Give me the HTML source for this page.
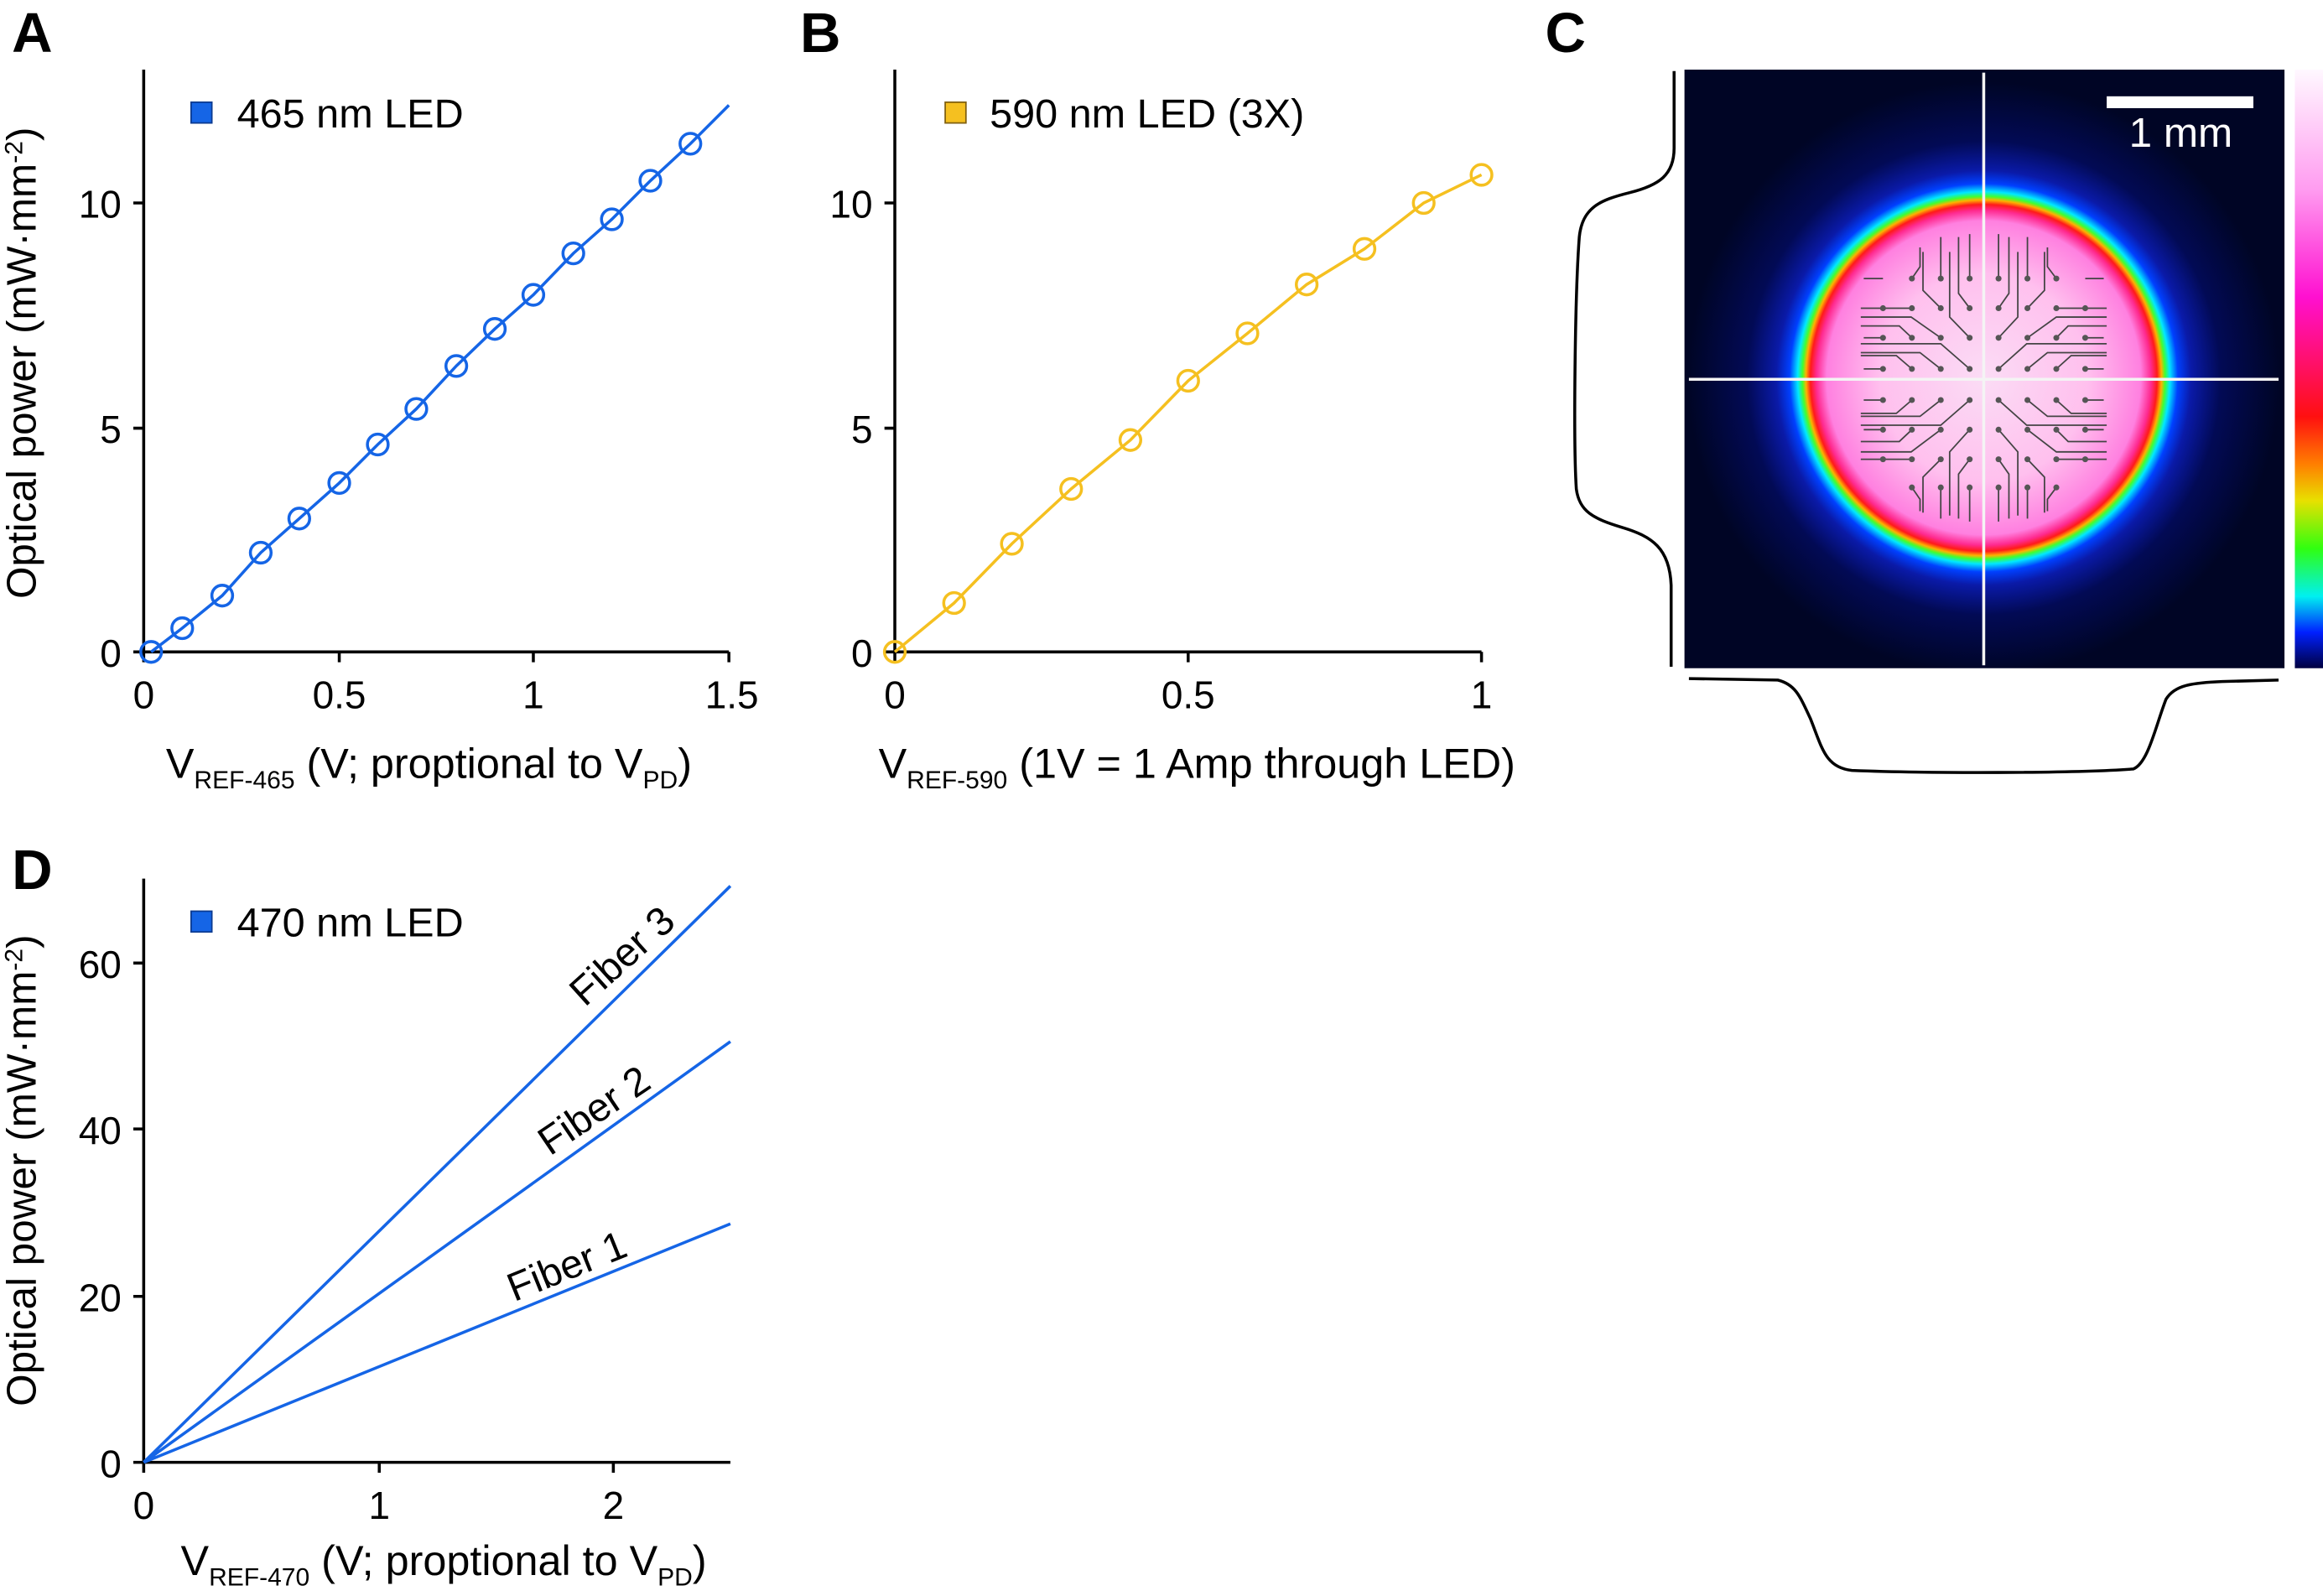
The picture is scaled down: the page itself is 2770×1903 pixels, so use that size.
<!DOCTYPE html>
<html><head><meta charset="utf-8"><style>
html,body{margin:0;padding:0;background:#fff;}
svg{display:block;}
text{font-family:"Liberation Sans",Arial,sans-serif;fill:#000;}
</style></head><body>
<svg width="2770" height="1903" viewBox="0 0 1568 1077.2" preserveAspectRatio="none" xmlns="http://www.w3.org/2000/svg">
<defs>
<radialGradient id="spot" gradientUnits="userSpaceOnUse" cx="1339" cy="255" r="200">
<stop offset="0" stop-color="#fbdcf5"/>
<stop offset="0.35" stop-color="#ffc0ee"/>
<stop offset="0.53" stop-color="#ff80e0"/>
<stop offset="0.565" stop-color="#ff2a90"/>
<stop offset="0.585" stop-color="#ff1a1a"/>
<stop offset="0.6" stop-color="#ffb000"/>
<stop offset="0.612" stop-color="#40ff30"/>
<stop offset="0.628" stop-color="#00e8ff"/>
<stop offset="0.655" stop-color="#0040ff"/>
<stop offset="0.7" stop-color="#0a1aa8"/>
<stop offset="0.8" stop-color="#020a55"/>
<stop offset="1" stop-color="#000525"/>
</radialGradient>
<linearGradient id="cbar" x1="0" y1="0" x2="0" y2="1">
<stop offset="0" stop-color="#fff8ff"/>
<stop offset="0.2" stop-color="#ff9cf0"/>
<stop offset="0.38" stop-color="#ff10d0"/>
<stop offset="0.5" stop-color="#ff1060"/>
<stop offset="0.58" stop-color="#ff1010"/>
<stop offset="0.66" stop-color="#ff8000"/>
<stop offset="0.72" stop-color="#e8e000"/>
<stop offset="0.8" stop-color="#30ff10"/>
<stop offset="0.88" stop-color="#00f0f0"/>
<stop offset="0.94" stop-color="#0020ff"/>
<stop offset="1" stop-color="#000040"/>
</linearGradient>
</defs>

<!-- Panel A -->
<text x="8" y="35" font-size="38" font-weight="bold">A</text>
<g stroke="#000" stroke-width="2" fill="none">
<path d="M97,47 V440 H492"/>
<path d="M90,137 H97 M90,289 H97 M90,440 H97"/>
<path d="M97,440 V447 M229,440 V447 M360,440 V447 M492,440 V447"/>
</g>
<g font-size="26" text-anchor="end">
<text x="82" y="147">10</text><text x="82" y="299">5</text><text x="82" y="450">0</text>
</g>
<g font-size="26" text-anchor="middle">
<text x="97" y="478">0</text><text x="229" y="478">0.5</text><text x="360" y="478">1</text><text x="494" y="478">1.5</text>
</g>
<text x="112" y="525" font-size="28.5">V<tspan font-size="17" dy="7">REF-465</tspan><tspan dy="-7"> (V; proptional to V</tspan><tspan font-size="17" dy="7">PD</tspan><tspan dy="-7">)</tspan></text>
<text transform="translate(24,245) rotate(-90)" font-size="28" text-anchor="middle">Optical power (mW·mm<tspan font-size="17" dy="-9">-2</tspan><tspan dy="9">)</tspan></text>
<rect x="129" y="69" width="14" height="14" fill="#1565e6" stroke="#0b3a90" stroke-width="1"/>
<text x="160" y="86" font-size="27.5">465 nm LED</text>
<g stroke="#1565e6" stroke-width="2" fill="none">
<polyline points="102,440 123,424 150,402 176,373 202,350 229,326 255,300 281,276 308,247 334,222 360,199 387,171 413,148 439,122 466,97 492,71"/>
<circle cx="102" cy="440" r="7"/><circle cx="123" cy="424" r="7"/><circle cx="150" cy="402" r="7"/><circle cx="176" cy="373" r="7"/><circle cx="202" cy="350" r="7"/><circle cx="229" cy="326" r="7"/><circle cx="255" cy="300" r="7"/><circle cx="281" cy="276" r="7"/><circle cx="308" cy="247" r="7"/><circle cx="334" cy="222" r="7"/><circle cx="360" cy="199" r="7"/><circle cx="387" cy="171" r="7"/><circle cx="413" cy="148" r="7"/><circle cx="439" cy="122" r="7"/><circle cx="466" cy="97" r="7"/>
</g>

<!-- Panel B -->
<text x="540" y="35" font-size="38" font-weight="bold">B</text>
<g stroke="#000" stroke-width="2" fill="none">
<path d="M604,47 V440 H1000"/>
<path d="M597,137 H604 M597,289 H604 M597,440 H604"/>
<path d="M604,440 V447 M802,440 V447 M1000,440 V447"/>
</g>
<g font-size="26" text-anchor="end">
<text x="589" y="147">10</text><text x="589" y="299">5</text><text x="589" y="450">0</text>
</g>
<g font-size="26" text-anchor="middle">
<text x="604" y="478">0</text><text x="802" y="478">0.5</text><text x="1000" y="478">1</text>
</g>
<text x="593" y="525" font-size="28.5">V<tspan font-size="17" dy="7">REF-590</tspan><tspan dy="-7"> (1V = 1 Amp through LED)</tspan></text>
<rect x="638" y="69" width="14" height="14" fill="#f5c020" stroke="#806010" stroke-width="1"/>
<text x="668" y="86" font-size="27.5">590 nm LED (3X)</text>
<g stroke="#f5c020" stroke-width="2" fill="none">
<polyline points="604,440 644,407 683,367 723,330 763,297 802,257 842,225 882,192 921,168 961,137 1000,118"/>
<circle cx="604" cy="440" r="7"/><circle cx="644" cy="407" r="7"/><circle cx="683" cy="367" r="7"/><circle cx="723" cy="330" r="7"/><circle cx="763" cy="297" r="7"/><circle cx="802" cy="257" r="7"/><circle cx="842" cy="225" r="7"/><circle cx="882" cy="192" r="7"/><circle cx="921" cy="168" r="7"/><circle cx="961" cy="137" r="7"/><circle cx="1000" cy="118" r="7"/>
</g>

<!-- Panel C -->
<text x="1043" y="35" font-size="38" font-weight="bold">C</text>
<rect x="1137" y="47" width="405" height="404" fill="url(#spot)"/>
<g stroke="#444" stroke-width="1" fill="none">
<path d="M1271,188H1258M1290.5,188L1296,180V167M1310,188V160M1329.5,188V158M1349,188V158M1368.5,188V160M1388,188L1382,180V167M1407.5,188H1420
M1271,208H1258M1290.5,208H1256M1310,208L1298,196V170M1329.5,208L1322,198V160M1349,208L1356,198V160M1368.5,208L1380,196V170M1388,208H1422M1407.5,208H1420
M1271,228H1258M1290.5,228L1282,220H1256M1310,228L1290,214H1256M1329.5,228L1316,214V170M1349,228L1362,214V170M1368.5,228L1388,214H1422M1388,228L1396,220H1422M1407.5,228H1420
M1271,249H1258M1290.5,249L1280,240H1256M1310,249L1296,238H1256M1329.5,249L1310,232H1256M1349,249L1368,232H1422M1368.5,249L1382,238H1422M1388,249L1398,240H1422M1407.5,249H1420
M1271,270H1258M1290.5,270L1280,279H1256M1310,270L1296,281H1256M1329.5,270L1310,287H1256M1349,270L1368,287H1422M1368.5,270L1382,281H1422M1388,270L1398,279H1422M1407.5,270H1420
M1271,290H1258M1290.5,290L1282,298H1256M1310,290L1290,305H1256M1329.5,290L1316,305V348M1349,290L1362,305V348M1368.5,290L1388,305H1422M1388,290L1396,298H1422M1407.5,290H1420
M1271,310H1258M1290.5,310H1256M1310,310L1298,322V346M1329.5,310L1322,320V350M1349,310L1356,320V350M1368.5,310L1380,322V346M1388,310H1422M1407.5,310H1420
M1290.5,329L1296,337V345M1310,329V350M1329.5,329V352M1349,329V352M1368.5,329V350M1388,329L1382,337V345"/>
</g>
<g fill="#555">
<circle cx="1290.5" cy="188" r="2"/><circle cx="1310" cy="188" r="2"/><circle cx="1329.5" cy="188" r="2"/><circle cx="1349" cy="188" r="2"/><circle cx="1368.5" cy="188" r="2"/><circle cx="1388" cy="188" r="2"/>
<circle cx="1271" cy="208" r="2"/><circle cx="1290.5" cy="208" r="2"/><circle cx="1310" cy="208" r="2"/><circle cx="1329.5" cy="208" r="2"/><circle cx="1349" cy="208" r="2"/><circle cx="1368.5" cy="208" r="2"/><circle cx="1388" cy="208" r="2"/><circle cx="1407.5" cy="208" r="2"/>
<circle cx="1271" cy="228" r="2"/><circle cx="1290.5" cy="228" r="2"/><circle cx="1310" cy="228" r="2"/><circle cx="1329.5" cy="228" r="2"/><circle cx="1349" cy="228" r="2"/><circle cx="1368.5" cy="228" r="2"/><circle cx="1388" cy="228" r="2"/><circle cx="1407.5" cy="228" r="2"/>
<circle cx="1271" cy="249" r="2"/><circle cx="1290.5" cy="249" r="2"/><circle cx="1310" cy="249" r="2"/><circle cx="1329.5" cy="249" r="2"/><circle cx="1349" cy="249" r="2"/><circle cx="1368.5" cy="249" r="2"/><circle cx="1388" cy="249" r="2"/><circle cx="1407.5" cy="249" r="2"/>
<circle cx="1271" cy="270" r="2"/><circle cx="1290.5" cy="270" r="2"/><circle cx="1310" cy="270" r="2"/><circle cx="1329.5" cy="270" r="2"/><circle cx="1349" cy="270" r="2"/><circle cx="1368.5" cy="270" r="2"/><circle cx="1388" cy="270" r="2"/><circle cx="1407.5" cy="270" r="2"/>
<circle cx="1271" cy="290" r="2"/><circle cx="1290.5" cy="290" r="2"/><circle cx="1310" cy="290" r="2"/><circle cx="1329.5" cy="290" r="2"/><circle cx="1349" cy="290" r="2"/><circle cx="1368.5" cy="290" r="2"/><circle cx="1388" cy="290" r="2"/><circle cx="1407.5" cy="290" r="2"/>
<circle cx="1271" cy="310" r="2"/><circle cx="1290.5" cy="310" r="2"/><circle cx="1310" cy="310" r="2"/><circle cx="1329.5" cy="310" r="2"/><circle cx="1349" cy="310" r="2"/><circle cx="1368.5" cy="310" r="2"/><circle cx="1388" cy="310" r="2"/><circle cx="1407.5" cy="310" r="2"/>
<circle cx="1290.5" cy="329" r="2"/><circle cx="1310" cy="329" r="2"/><circle cx="1329.5" cy="329" r="2"/><circle cx="1349" cy="329" r="2"/><circle cx="1368.5" cy="329" r="2"/><circle cx="1388" cy="329" r="2"/>
</g>
<path d="M1339,49 V449 M1140,256 H1538" stroke="#f4f4f4" stroke-width="2"/>
<rect x="1422" y="65" width="99" height="8" fill="#fff"/>
<text x="1472" y="99" font-size="28" text-anchor="middle" style="fill:#fff">1 mm</text>
<rect x="1549" y="47" width="19" height="404" fill="url(#cbar)"/>
<path d="M1130,48 V100 C1130,118 1120,125 1100,130 C1080,135 1068,140 1066,160 C1063,200 1062,300 1064,330 C1066,345 1075,350 1095,356 C1115,362 1127,370 1128,395 V450" stroke="#000" stroke-width="2" fill="none"/>
<path d="M1140,458 L1200,459 C1212,462 1215,470 1222,485 C1230,505 1232,518 1250,520 C1300,522 1400,522 1440,519 C1450,515 1455,490 1462,472 C1468,462 1480,461 1500,460 L1538,459" stroke="#000" stroke-width="2" fill="none"/>

<!-- Panel D -->
<text x="8" y="600" font-size="38" font-weight="bold">D</text>
<g stroke="#000" stroke-width="2" fill="none">
<path d="M97,593 V987 H493"/>
<path d="M90,650 H97 M90,762 H97 M90,875 H97 M90,987 H97"/>
<path d="M97,987 V994 M256,987 V994 M414,987 V994"/>
</g>
<g font-size="26" text-anchor="end">
<text x="82" y="660">60</text><text x="82" y="772">40</text><text x="82" y="885">20</text><text x="82" y="997">0</text>
</g>
<g font-size="26" text-anchor="middle">
<text x="97" y="1025">0</text><text x="256" y="1025">1</text><text x="414" y="1025">2</text>
</g>
<text x="122" y="1063" font-size="28.5">V<tspan font-size="17" dy="7">REF-470</tspan><tspan dy="-7"> (V; proptional to V</tspan><tspan font-size="17" dy="7">PD</tspan><tspan dy="-7">)</tspan></text>
<text transform="translate(24,790) rotate(-90)" font-size="28" text-anchor="middle">Optical power (mW·mm<tspan font-size="17" dy="-9">-2</tspan><tspan dy="9">)</tspan></text>
<rect x="129" y="615" width="14" height="14" fill="#1565e6" stroke="#0b3a90" stroke-width="1"/>
<text x="160" y="632" font-size="27.5">470 nm LED</text>
<g stroke="#1565e6" stroke-width="2" fill="none">
<path d="M97,987 L493,598 M97,987 L493,703 M97,987 L493,826"/>
</g>
<text transform="translate(426,652) rotate(-42)" font-size="27" text-anchor="middle">Fiber 3</text>
<text transform="translate(406,757) rotate(-34)" font-size="27" text-anchor="middle">Fiber 2</text>
<text transform="translate(386,863) rotate(-22)" font-size="27" text-anchor="middle">Fiber 1</text>
</svg>
</body></html>
